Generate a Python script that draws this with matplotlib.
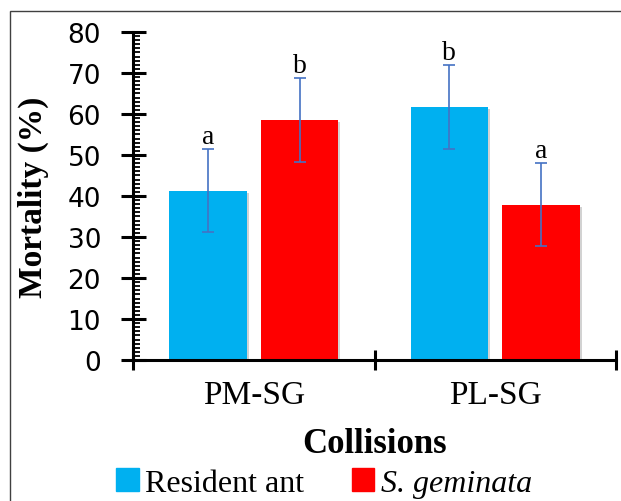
import numpy as np
import matplotlib
matplotlib.use("Agg")
import matplotlib.pyplot as plt
from matplotlib.patches import Rectangle, Patch
from matplotlib.ticker import MultipleLocator
import matplotlib.patheffects as pe

# data
categories = ['PM-SG', 'PL-SG']
resident = [41.3, 61.7]
resident_err = [10.2, 10.3]
geminata = [58.6, 37.9]
geminata_err = [10.3, 10.2]
resident_letters = ['a', 'b']
geminata_letters = ['b', 'a']

serif = 'Liberation Serif'
c_res = '#00B0F0'
c_gem = '#FF0000'
c_err = '#4472C4'

W, H = 621, 502
fig = plt.figure(figsize=(W / 100, H / 100), dpi=100)
ax = fig.add_axes([133 / W, 1 - 361 / H, (616 - 133) / W, (361 - 33) / H])

x = np.arange(len(categories))
off, bw = 0.19, 0.32
shadow = [pe.SimplePatchShadow(offset=(1.5, -1.5), shadow_rgbFace='grey', alpha=0.35), pe.Normal()]

ax.bar(x - off, resident, bw, color=c_res, path_effects=shadow, zorder=2)
ax.bar(x + off, geminata, bw, color=c_gem, path_effects=shadow, zorder=2)
ax.errorbar(x - off, resident, yerr=resident_err, fmt='none', ecolor=c_err,
            elinewidth=1.2, capsize=4.5, capthick=1.2, zorder=3)
ax.errorbar(x + off, geminata, yerr=geminata_err, fmt='none', ecolor=c_err,
            elinewidth=1.2, capsize=4.5, capthick=1.2, zorder=3)

# significance letters above the error bars
for xi, v, e, t in zip(x - off, resident, resident_err, resident_letters):
    ax.annotate(t, (xi, v + e), xytext=(0, 4), textcoords='offset points',
                ha='center', va='baseline', fontsize=20, family=serif)
for xi, v, e, t in zip(x + off, geminata, geminata_err, geminata_letters):
    ax.annotate(t, (xi, v + e), xytext=(0, 4), textcoords='offset points',
                ha='center', va='baseline', fontsize=20, family=serif)

ax.set_xlim(-0.5, 1.5)
ax.set_ylim(0, 80)
ax.yaxis.set_major_locator(MultipleLocator(10))
ax.yaxis.set_minor_locator(MultipleLocator(1))
ax.set_xticks(x)
ax.set_xticklabels(categories, fontsize=24, family=serif)
ax.set_xticks([-0.5, 0.5, 1.5], minor=True)

for s in ['top', 'right']:
    ax.spines[s].set_visible(False)
for s in ['left', 'bottom']:
    ax.spines[s].set_linewidth(2.2)

ax.tick_params(axis='y', which='major', direction='inout', length=18, width=2.2,
               labelsize=19, pad=14)
ax.tick_params(axis='y', which='minor', direction='in', length=5, width=1.3)
ax.tick_params(axis='x', which='major', length=0, pad=14)
ax.tick_params(axis='x', which='minor', direction='inout', length=14, width=2.2)

fig.text(33 / W, 1 - 197 / H, 'Mortality (%)', rotation=90, ha='center', va='center',
         fontsize=24, fontweight='bold', family=serif)
fig.text((133 + 616) / 2 / W, 1 - 453 / H, 'Collisions', ha='center', va='baseline',
         fontsize=25, fontweight='bold', family=serif)

handles = [Patch(color=c_res), Patch(color=c_gem)]
leg = fig.legend(handles, ['Resident ant', 'S. geminata'], loc='center',
                 bbox_to_anchor=(324 / W, 1 - 484 / H), ncol=2, frameon=False,
                 handlelength=0.7, handleheight=0.7, handletextpad=0.2,
                 columnspacing=1.5, borderpad=0.1, prop={'family': serif, 'size': 23})
leg.get_texts()[1].set_fontstyle('italic')

# figure frame (only left and top edges fall inside the picture)
fig.patches.append(Rectangle((10 / W, -0.5), 2, 1.5 - 12 / H, transform=fig.transFigure,
                             fill=False, edgecolor='#404040', linewidth=1, zorder=0))

fig.savefig('out.png', dpi=100)
